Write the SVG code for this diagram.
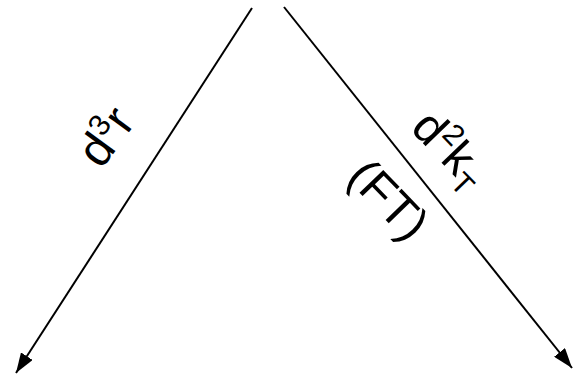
<svg xmlns="http://www.w3.org/2000/svg" width="577" height="375" viewBox="0 0 577 375">
<style>
.c{stroke:#000;stroke-width:2;fill:none}
.t{font-family:"Liberation Sans",Arial,sans-serif;font-size:48px;fill:#000}
.s{font-size:30px}
</style>
<defs>
<marker id="ah" markerWidth="20" markerHeight="14" refX="20" refY="7" orient="auto" markerUnits="userSpaceOnUse" viewBox="0 0 20 14">
<path d="M0,0 L20,7 L0,14 z" fill="#000"/>
</marker>
</defs>
<rect width="577" height="375" fill="#fff"/>
<g id="connectors">
<line class="c" x1="252" y1="8" x2="16" y2="373" marker-end="url(#ah)"/>
<line class="c" x1="284" y1="7" x2="572" y2="368" marker-end="url(#ah)"/>
</g>
<g id="label-d3r">
<text class="t" transform="translate(119,146) rotate(-54)" text-anchor="middle">d<tspan class="s" dy="-18">3</tspan><tspan dy="18">r</tspan></text>
</g>
<g id="label-d2kT">
<text class="t" transform="translate(439,160) rotate(46)" text-anchor="middle">d<tspan class="s" dy="-18">2</tspan><tspan dy="18">k</tspan><tspan class="s" dy="10">T</tspan></text>
</g>
<g id="label-FT">
<text class="t" transform="translate(377,211) rotate(46)" text-anchor="middle">(FT)</text>
</g>
</svg>
